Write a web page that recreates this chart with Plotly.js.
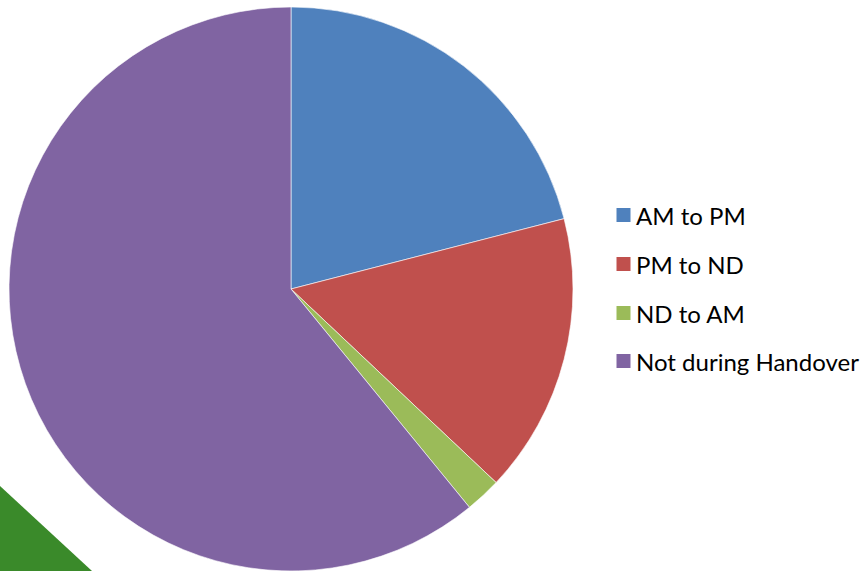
<!DOCTYPE html>
<html>
<head>
<meta charset="utf-8">
<script src="https://cdn.plot.ly/plotly-3.0.1.min.js"></script>
<style>html,body{margin:0;padding:0;background:#fff;}#chart{width:867px;height:571px;}</style>
</head>
<body>
<div id="chart"></div>
<script>
const labels = ["AM to PM", "PM to ND", "ND to AM", "Not during Handover"];
const values = [51, 39, 5, 148];
const colors = ["#4F81BD", "#C0504D", "#9BBB59", "#8064A2"];

const W = 867, H = 571;
const px = x => x / W;
const py = y => 1 - y / H;

const trace = {
  type: "pie",
  labels: labels,
  values: values,
  sort: false,
  direction: "clockwise",
  rotation: 0,
  textinfo: "none",
  hoverinfo: "label+value+percent",
  marker: {colors: colors, line: {color: "#ffffff", width: 0.6}},
  domain: {x: [px(9), px(573)], y: [0, 564 / H]},
  showlegend: false
};

const legendY = [215, 264, 313, 361];
const shapes = [
  {type: "path", xref: "paper", yref: "paper", layer: "below",
   path: `M 0 ${py(486)} L ${px(92)} ${py(571)} L 0 ${py(571)} Z`,
   fillcolor: "#3A8A2A", line: {width: 0}}
];
const annotations = [];
labels.forEach((lab, i) => {
  const cy = legendY[i];
  shapes.push({type: "rect", xref: "paper", yref: "paper",
    x0: px(616.5), x1: px(630.5), y0: py(cy + 7), y1: py(cy - 7),
    fillcolor: colors[i], line: {width: 0}});
  annotations.push({xref: "paper", yref: "paper", x: px(634), y: py(cy),
    xanchor: "left", yanchor: "middle", text: lab, showarrow: false,
    font: {family: "Lato, 'Open Sans', sans-serif", size: 24, color: "#000"}});
});

const layout = {
  width: W, height: H,
  margin: {l: 0, r: 0, t: 0, b: 0},
  paper_bgcolor: "#ffffff",
  showlegend: false,
  shapes: shapes,
  annotations: annotations
};

Plotly.newPlot("chart", [trace], layout, {displayModeBar: false, staticPlot: true});
</script>
</body>
</html>
